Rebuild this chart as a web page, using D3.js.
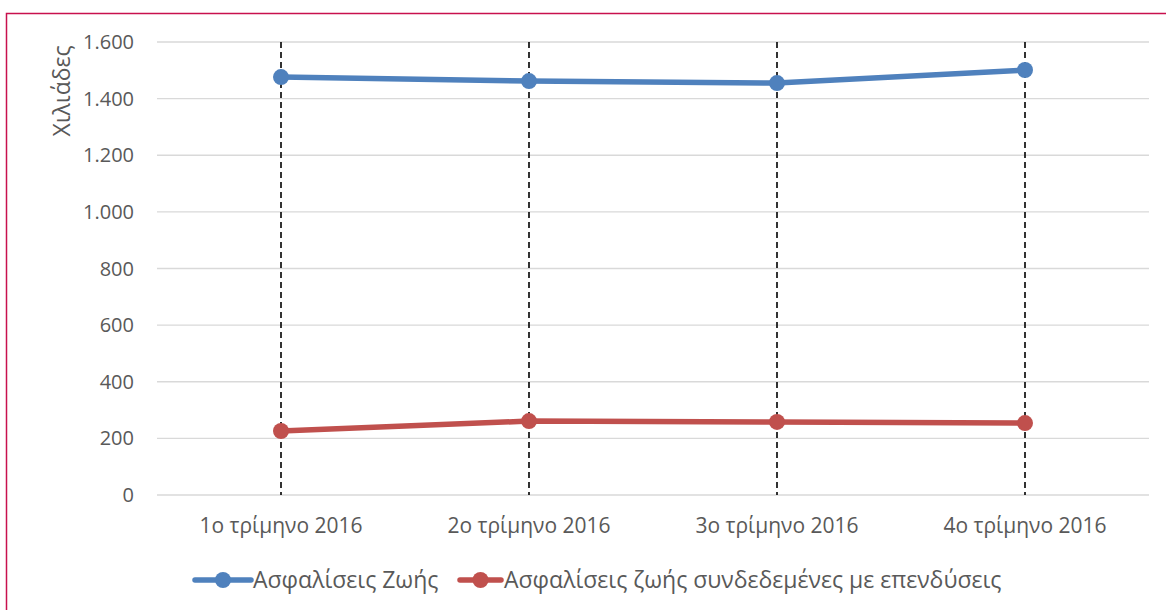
<!DOCTYPE html>
<html><head><meta charset="utf-8">
<script src="https://cdn.jsdelivr.net/npm/d3@7/dist/d3.min.js"></script>
<style>body{margin:0;background:#fff}svg{display:block}text{font-family:"Open Sans","Noto Sans",sans-serif;fill:#595959}</style>
</head><body><svg id="c" width="1166" height="610"></svg>
<script>
const categories = ["1ο τρίμηνο 2016","2ο τρίμηνο 2016","3ο τρίμηνο 2016","4ο τρίμηνο 2016"];
const lifeValues = [1476, 1462, 1455, 1501];
const linkedValues = [226, 261, 258, 254];
const yTicks = [0,200,400,600,800,1000,1200,1400,1600];
const seriesNames = ["Ασφαλίσεις Ζωής","Ασφαλίσεις ζωής συνδεδεμένες με επενδύσεις"];
const colors = ["#4F81BD","#C0504D"];
const yTitle = "Χιλιάδες";

const svg = d3.select("#c");
const L=157,R=1149,T=42,B=495;
svg.append("path").attr("d","M6.5,610 V13.5 H1166").attr("fill","none").attr("stroke","#C8104E").attr("stroke-width",1.5);

const x = d3.scaleBand().domain(categories).range([L,R]);
const y = d3.scaleLinear().domain([0,1600]).range([B,T]);
const fmt = v => d3.format(",")(v).replace(/,/g,".");

svg.append("g").selectAll("line").data(yTicks).join("line")
  .attr("x1",L).attr("x2",R).attr("y1",d=>y(d)).attr("y2",d=>y(d))
  .attr("stroke","#D9D9D9").attr("stroke-width",1.3);
svg.append("g").selectAll("text").data(yTicks).join("text")
  .attr("x",134).attr("y",d=>y(d)).attr("dy","0.35em").attr("text-anchor","end")
  .style("font-size","20px").text(fmt);
svg.append("text").attr("transform",`translate(70,91) rotate(-90)`).attr("text-anchor","middle")
  .style("font-size","23px").text(yTitle);

const cx = d => x(d)+x.bandwidth()/2;
svg.append("g").selectAll("line").data(categories).join("line")
  .attr("x1",cx).attr("x2",cx).attr("y1",T).attr("y2",B)
  .attr("stroke","#000").attr("stroke-width",1.6).attr("stroke-dasharray","6,4");
svg.append("g").selectAll("text").data(categories).join("text")
  .attr("x",cx).attr("y",526).attr("dy","0.35em").attr("text-anchor","middle")
  .style("font-size","21px").text(d=>d);

[lifeValues,linkedValues].forEach((vals,i)=>{
  const pts = categories.map((c,j)=>[cx(c),y(vals[j])]);
  svg.append("path").attr("d",d3.line()(pts)).attr("fill","none")
    .attr("stroke",colors[i]).attr("stroke-width",5.5).attr("stroke-linejoin","round");
  svg.append("g").selectAll("circle").data(pts).join("circle")
    .attr("cx",d=>d[0]).attr("cy",d=>d[1]).attr("r",8).attr("fill",colors[i]);
});

const leg = [{x1:195,x2:251,t:253},{x1:460,x2:501,t:504}];
leg.forEach((l,i)=>{
  svg.append("line").attr("x1",l.x1).attr("x2",l.x2).attr("y1",580).attr("y2",580)
    .attr("stroke",colors[i]).attr("stroke-width",5.5).attr("stroke-linecap","round");
  svg.append("circle").attr("cx",(l.x1+l.x2)/2).attr("cy",580).attr("r",8).attr("fill",colors[i]);
  svg.append("text").attr("x",l.t).attr("y",580).attr("dy","0.35em").style("font-size","23px").text(seriesNames[i]);
});
</script></body></html>
